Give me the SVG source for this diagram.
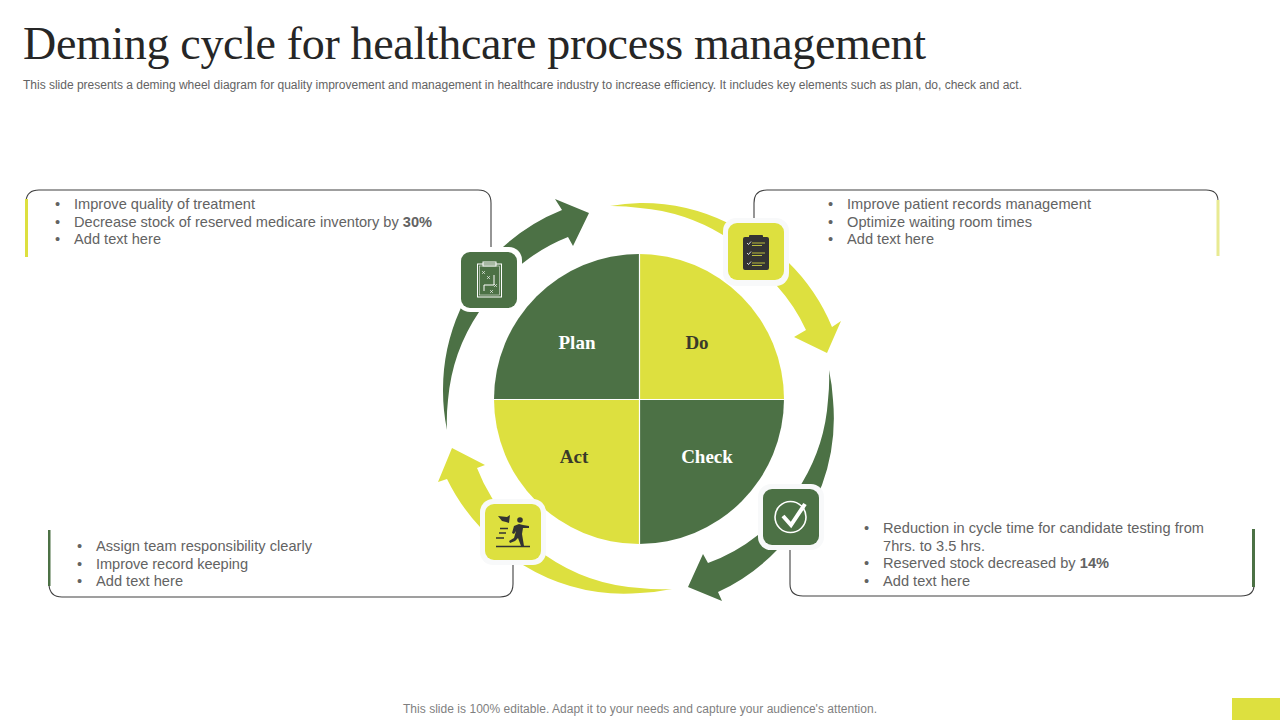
<svg xmlns="http://www.w3.org/2000/svg" width="1280" height="720" viewBox="0 0 1280 720">
<style>
.t{font-family:"Liberation Sans",Arial,sans-serif;font-size:14.6px;fill:#636363}
.pie{font-family:"Liberation Serif","DejaVu Serif",serif;font-size:19px;font-weight:700;text-anchor:middle}
.frame{fill:none;stroke:#404040;stroke-width:1.1}
.g{fill:#4c7145}.y{fill:#dde03f}
.halo{fill:#f8f9fa}
.wl{fill:none;stroke:#fff;stroke-width:1}
.dl{fill:none;stroke:#333;stroke-width:1.6}
</style>
<rect width="1280" height="720" fill="#fff"/>
<text x="23" y="59" font-family="'Liberation Serif','DejaVu Serif',serif" font-size="46" fill="#262626" textLength="903" lengthAdjust="spacing">Deming cycle for healthcare process management</text>
<text x="23" y="89" font-family="'Liberation Sans',Arial,sans-serif" font-size="12" fill="#636363" textLength="999" lengthAdjust="spacing">This slide presents a deming wheel diagram for quality improvement and management in healthcare industry to increase efficiency. It includes key elements such as plan, do, check and act.</text>

<g id="panels">
<path class="frame" d="M26,201 Q27,190 39,190 H478 Q491,190 491,203 V248"/>
<rect x="25" y="199" width="3" height="58" fill="#dde03f"/>
<path class="frame" d="M754,222 V203 Q754,190 767,190 H1206 Q1218,190 1218,201"/>
<rect x="1216.500" y="200" width="3" height="56" fill="#e8ea92"/>
<path class="frame" d="M49,585 Q50,597 62,597 H500 Q513,597 513,584 V562"/>
<rect x="48" y="530" width="2.500" height="56" fill="#4c7145"/>
<path class="frame" d="M790,548 V584 Q790,596 803,596 H1241 Q1254,596 1254,585"/>
<rect x="1252" y="529" width="3" height="58" fill="#4c7145"/>
</g>

<g id="connectors">
<path class="g" d="M447,430 A195,195 0 0 1 443,390 A195,195 0 0 1 460,310 A195,195 0 0 1 503,247 A195,195 0 0 1 562,210 L555,199 L589,213 L573,246 L568,237 A175,175 0 0 0 523,263 A175,175 0 0 0 479,312 A185,185 0 0 0 448,400 A190,190 0 0 0 447,430Z"/>
<path class="y" d="M610,206 A195,195 0 0 1 640,203 A195,195 0 0 1 728,223 A195,195 0 0 1 788,262 A195,195 0 0 1 832,327 L841,321 L827,353 L794,337 L806,330 A175,175 0 0 0 777,286 A185,185 0 0 0 723,235 A190,190 0 0 0 640,208 A195,195 0 0 0 610,206Z"/>
<path class="g" d="M829,370 A195,195 0 0 1 833,400 A195,195 0 0 1 822,485 A195,195 0 0 1 778,549 A195,195 0 0 1 718,592 L722,601 L688,587 L703,554 L708,563 A175,175 0 0 0 758,535 A175,175 0 0 0 802,483 A185,185 0 0 0 828,400 A190,190 0 0 0 829,370Z"/>
<path class="y" d="M672,589 A195,195 0 0 1 640,593 A195,195 0 0 1 523,565 A195,195 0 0 1 480,527 A195,195 0 0 1 447,479 L438,482 L452,448 L485,465 L477,468 A175,175 0 0 0 492,498 A175,175 0 0 0 545,555 A185,185 0 0 0 640,588 A190,190 0 0 0 672,589Z"/>
</g>

<g id="plan">
<path class="g" d="M639,399 H494 A145,145 0 0 1 639,254Z"/>
<text class="pie" x="577" y="349" fill="#fff">Plan</text>
</g>
<g id="do">
<path class="y" d="M639,399 V254 A145,145 0 0 1 784,399Z"/>
<text class="pie" x="697" y="349" fill="#3a3a2a">Do</text>
</g>
<g id="check">
<path class="g" d="M639,399 H784 A145,145 0 0 1 639,544Z"/>
<text class="pie" x="707" y="463" fill="#fff">Check</text>
</g>
<g id="act">
<path class="y" d="M639,399 V544 A145,145 0 0 1 494,399Z"/>
<text class="pie" x="574" y="463" fill="#3a3a2a">Act</text>
</g>
<path d="M494,399.500 H784 M639.500,254 V544" stroke="#fff" stroke-width="1.200" fill="none"/>

<g id="icon-plan">
<rect x="457" y="247" width="65" height="65" rx="13" fill="#fff"/>
<rect x="461" y="252" width="56" height="56" rx="9" class="g"/>
<rect x="477.500" y="264" width="24" height="33" class="wl"/>
<rect x="479.500" y="266" width="20" height="29" fill="none" stroke="#fff" stroke-width=".5"/>
<rect x="483" y="262" width="13" height="4" class="wl"/>
<path class="wl" d="M484,291 V285 H494 V275" stroke-width=".7"/>
<path d="M482,271 l3,3 m0,-3 l-3,3 M487,276 l3,3 m0,-3 l-3,3 M494,284 l3,3 m0,-3 l-3,3 M490,290 l3,3 m0,-3 l-3,3" stroke="#fff" stroke-width=".6" fill="none"/>
</g>
<g id="icon-do">
<rect x="723" y="218" width="66" height="68" rx="13" class="halo"/>
<rect x="728" y="223" width="56" height="57" rx="9" class="y"/>
<rect x="743" y="237" width="26" height="33" rx="2" fill="#333"/>
<rect x="749" y="235" width="14" height="4" rx="1" fill="#333"/>
<path d="M752,243 H765 M752,245.500 H762 M752,253 H765 M752,255.500 H762 M752,263 H765 M752,265.500 H762" stroke="#dde03f" stroke-width=".8" fill="none"/>
<path d="M747,243 l1.500,1.500 l2.500,-3 M747,253 l1.500,1.500 l2.500,-3 M747,263 l1.500,1.500 l2.500,-3" stroke="#fff" stroke-width=".8" fill="none"/>
</g>
<g id="icon-check">
<rect x="758" y="484" width="66" height="66" rx="13" class="halo"/>
<rect x="763" y="489" width="56" height="56" rx="9" class="g"/>
<circle cx="790.500" cy="517" r="15.500" fill="none" stroke="#fff" stroke-width="1.600"/>
<path d="M783,516 L791,525 L805,504" fill="none" stroke="#fff" stroke-width="4"/>
</g>
<g id="icon-act">
<rect x="480" y="499" width="66" height="66" rx="13" class="halo"/>
<rect x="485" y="504" width="56" height="56" rx="9" class="y"/>
<path d="M496,546.500 H530" stroke="#333" stroke-width="1.300" fill="none"/>
<path class="dl" d="M500,528.500 H508 M499,533 H506 M496,538 H504"/>
<path d="M498,516 L507,517 L510,515 L509,523 L506,522 L502,521Z" fill="#333"/>
<circle cx="520" cy="520" r="2.800" fill="#333"/>
<path d="M512,533 L514,526 L519,524 L523,525 L529,526 L529,528 L523,528 L522,534 L524,546 L521,546 L518,538 L515,541 L510,543 L509,541 L514,538 L516,531 L514,534Z" fill="#333"/>
</g>

<g id="text-plan" class="t">
<text x="55" y="209">•</text><text x="74" y="209" textLength="181">Improve quality of treatment</text>
<text x="55" y="227">•</text><text x="74" y="227" textLength="358">Decrease stock of reserved medicare inventory by <tspan font-weight="700">30%</tspan></text>
<text x="55" y="244">•</text><text x="74" y="244" textLength="87">Add text here</text>
</g>
<g id="text-do" class="t">
<text x="828" y="209">•</text><text x="847" y="209" textLength="244">Improve patient records management</text>
<text x="828" y="227">•</text><text x="847" y="227" textLength="185">Optimize waiting room times</text>
<text x="828" y="244">•</text><text x="847" y="244" textLength="87">Add text here</text>
</g>
<g id="text-check" class="t">
<text x="864" y="533">•</text><text x="883" y="533" textLength="321">Reduction in cycle time for candidate testing from</text>
<text x="883" y="551" textLength="102">7hrs. to 3.5 hrs.</text>
<text x="864" y="568">•</text><text x="883" y="568" textLength="226">Reserved stock decreased by <tspan font-weight="700">14%</tspan></text>
<text x="864" y="586">•</text><text x="883" y="586" textLength="87">Add text here</text>
</g>
<g id="text-act" class="t">
<text x="77" y="551">•</text><text x="96" y="551" textLength="216">Assign team responsibility clearly</text>
<text x="77" y="569">•</text><text x="96" y="569" textLength="152">Improve record keeping</text>
<text x="77" y="586">•</text><text x="96" y="586" textLength="87">Add text here</text>
</g>

<text x="403" y="713" font-family="'Liberation Sans',Arial,sans-serif" font-size="12" fill="#7f7f7f" textLength="474">This slide is 100% editable. Adapt it to your needs and capture your audience's attention.</text>
<rect x="1232" y="698" width="48" height="22" class="y"/>
</svg>
